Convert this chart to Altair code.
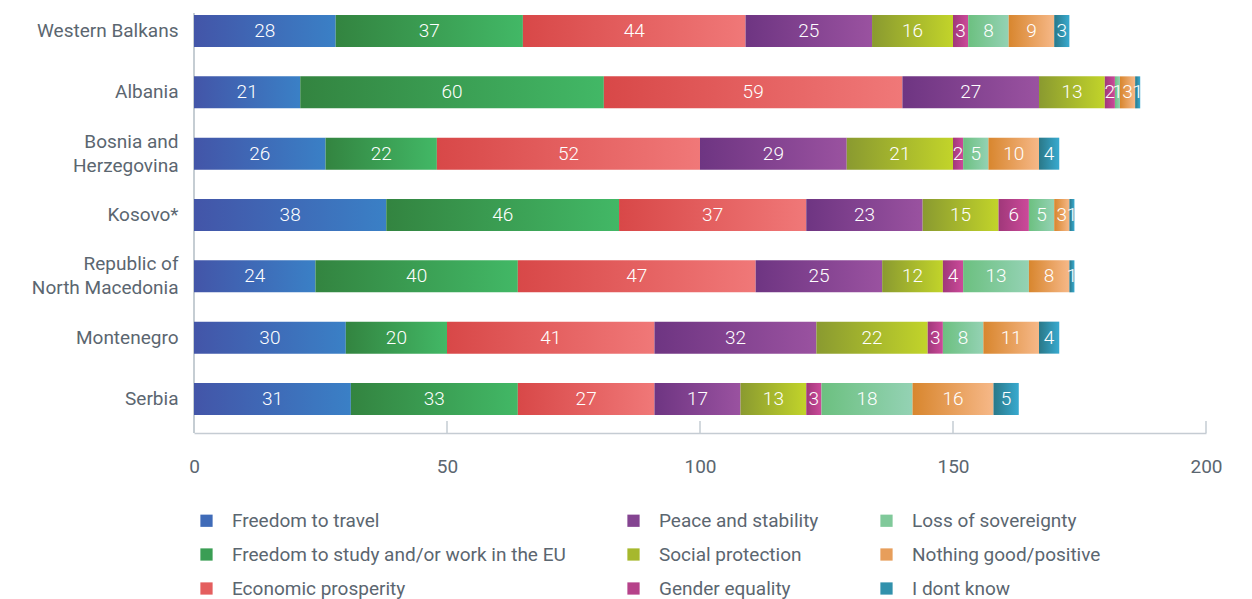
import altair as alt
import pandas as pd

countries = ["Western Balkans", "Albania", "Bosnia and|Herzegovina", "Kosovo*",
             "Republic of|North Macedonia", "Montenegro", "Serbia"]
categories = ["Freedom to travel", "Freedom to study and/or work in the EU",
              "Economic prosperity", "Peace and stability", "Social protection",
              "Gender equality", "Loss of sovereignty", "Nothing good/positive",
              "I dont know"]
travel    = [28, 21, 26, 38, 24, 30, 31]
study     = [37, 60, 22, 46, 40, 20, 33]
economic  = [44, 59, 52, 37, 47, 41, 27]
peace     = [25, 27, 29, 23, 25, 32, 17]
social    = [16, 13, 21, 15, 12, 22, 13]
gender    = [3, 2, 2, 6, 4, 3, 3]
loss      = [8, 1, 5, 5, 13, 8, 18]
nothing   = [9, 3, 10, 3, 8, 11, 16]
dontknow  = [3, 1, 4, 1, 1, 4, 5]
series = [travel, study, economic, peace, social, gender, loss, nothing, dontknow]

grad_left  = ["#4355a8", "#338440", "#d84848", "#6e3582", "#8a9a30", "#a0387a", "#6cc080", "#d8862e", "#2a7888"]
grad_right = ["#3a80c6", "#42b866", "#f07878", "#9a52a0", "#c2d42a", "#cc4a9a", "#94d2b4", "#f6b888", "#38aad0"]
legend_colors = ["#3f6bb8", "#3a9e54", "#e45e5e", "#844491", "#a6b82d", "#b6428a", "#80c99a", "#e79e5b", "#3191ac"]
x_ticks = [0, 50, 100, 150, 200]

rows = []
for ci, cat in enumerate(categories):
    for ri, c in enumerate(countries):
        rows.append({"country": c, "category": cat, "order": ci, "value": series[ci][ri]})
df = pd.DataFrame(rows)

W, H = 1012, 404
FONT = "Roboto"
GRAY = "#5b6670"

yenc = alt.Y("country:N", sort=countries, title=None,
             scale=alt.Scale(paddingInner=0.478, paddingOuter=0.033),
             axis=alt.Axis(labelExpr="split(datum.label, '|')", labelFontSize=19,
                           labelColor=GRAY, labelFont=FONT, labelPadding=16,
                           labelLineHeight=24, ticks=False, domain=False,
                           labelOffset={"condition": {"test": "indexof(datum.value, '|') >= 0",
                                                      "value": -12}, "value": 0}))
xscale = alt.Scale(domain=[0, 200], nice=False)

base = alt.Chart(df).transform_stack(
    stack="value", groupby=["country"], as_=["x0", "x1"],
    sort=[alt.SortField("order", order="ascending")]
)

layers = []
for ci, cat in enumerate(categories):
    grad = alt.Gradient(gradient="linear",
                        stops=[alt.GradientStop(color=grad_left[ci], offset=0),
                               alt.GradientStop(color=grad_right[ci], offset=1)],
                        x1=0, x2=1, y1=0, y2=0)
    layers.append(
        base.transform_filter(alt.datum.category == cat).mark_bar(color=grad).encode(
            x=alt.X("x0:Q", scale=xscale, title=None,
                    axis=alt.Axis(values=x_ticks, offset=16, ticks=False, grid=False,
                                  domainColor="#c5ccd3", domainWidth=1.5,
                                  labelFontSize=19, labelColor=GRAY, labelFont=FONT,
                                  labelPadding=24, labelFlush=False)),
            x2="x1:Q",
            y=yenc,
        )
    )

texts = base.transform_calculate(mid="(datum.x0 + datum.x1) / 2").mark_text(
    color="white", fontSize=19, font=FONT, fontWeight=300, baseline="middle", align="center"
).encode(x=alt.X("mid:Q", scale=xscale), y=yenc, text="value:Q")

legend_layer = base.mark_square(opacity=0).encode(
    x=alt.X("x1:Q", scale=xscale),
    y=yenc,
    color=alt.Color("category:N",
                    scale=alt.Scale(domain=categories, range=legend_colors),
                    legend=alt.Legend(title=None, orient="none", legendX=3, legendY=498,
                                      columns=3, columnPadding=58, rowPadding=14,
                                      symbolType="square", symbolSize=150, symbolOpacity=1,
                                      symbolStrokeWidth=0, labelFontSize=19, labelColor=GRAY,
                                      labelFont=FONT, labelOffset=16, labelLimit=500)),
)

tick_df = pd.DataFrame({"t": x_ticks})
tick_rules = alt.Chart(tick_df).mark_rule(color="#c5ccd3", strokeWidth=1.5).encode(
    x=alt.X("t:Q", scale=xscale), y=alt.value(H + 4), y2=alt.value(H + 16))
vline = alt.Chart(tick_df).mark_rule(color="#c5ccd3", strokeWidth=1.5).encode(
    x=alt.value(0), y=alt.value(0), y2=alt.value(H + 16))

chart = alt.layer(vline, tick_rules, *layers, texts, legend_layer).properties(
    width=W, height=H, background="white",
    padding={"left": 23, "top": 4, "right": 5, "bottom": 5}
).configure_view(strokeWidth=0, stroke="transparent")

chart.save("out.html", embed_options={"renderer": "svg", "actions": False})
